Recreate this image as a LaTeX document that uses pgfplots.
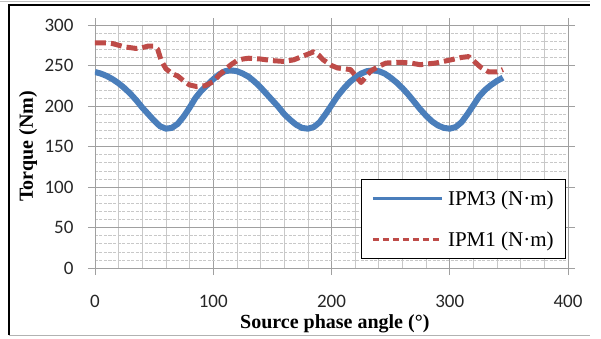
\documentclass[border=0pt]{standalone}
\usepackage{pgfplots}
\pgfplotsset{compat=1.18}
\usepackage{fontspec}
\setmainfont{Liberation Serif}
\newfontfamily\tickfont{Carlito}
\definecolor{ipmblue}{HTML}{4A7EBB}
\definecolor{ipmred}{HTML}{BE4B48}
\definecolor{majgrid}{HTML}{A0A0A0}
\definecolor{mingrid}{HTML}{C8C8C8}
\begin{document}
\begin{tikzpicture}[x=1pt,y=1pt]
\useasboundingbox (-95,-70) rectangle (506,268);
\draw[gray!50, line width=0.8pt] (-95,267) -- (495,267);
\draw[black, line width=2pt] (-86,-67) -- (-86,263) -- (495,263);
\draw[gray!60, line width=1pt] (-86,-67) -- (495,-67);
\begin{axis}[
  at={(0pt,0pt)}, anchor=south west,
  scale only axis, width=473pt, height=243pt,
  xmin=0, xmax=400, ymin=0, ymax=300,
  xtick={0,100,200,300,400}, ytick={0,50,100,150,200,250,300},
  minor x tick num=4, minor y tick num=4,
  grid=both,
  major x grid style={majgrid, line width=0.8pt},
  major y grid style={majgrid, line width=0.8pt},
  minor x grid style={mingrid, line width=0.7pt},
  minor y grid style={mingrid, line width=0.6pt, dash pattern=on 3pt off 1.5pt},
  axis line style={majgrid, line width=0.8pt},
  tick align=outside, major tick length=7pt, minor tick length=0pt,
  tick style={majgrid, line width=0.8pt},
  /pgf/number format/assume math mode=true,
  ticklabel style={font=\tickfont\fontsize{19}{20}\selectfont, text=black!85},
  xticklabel style={yshift=-17pt},
  yticklabel style={xshift=-11pt},
  xlabel={Source phase angle (°)},
  ylabel={Torque (Nm)},
  label style={font=\bfseries\fontsize{20}{22}\selectfont},
  xlabel style={at={(axis description cs:0.507,-0.247)}, anchor=base},
  ylabel style={at={(axis description cs:-0.1416,0.5)}, anchor=center, rotate=0},
  legend style={at={(axis description cs:0.9958,0.037)}, anchor=south east,
    draw=black, line width=0.8pt, fill=white,
    font=\fontsize{21}{23}\selectfont, inner xsep=10pt, inner ysep=9pt,
    row sep=21pt, column sep=3pt},
  legend cell align=left,
]
\addplot[ipmblue, line width=6pt, line join=round,
  legend image code/.code={\draw[ipmblue, line width=2.4pt] (0pt,0pt) -- (69pt,0pt);}]
coordinates {
(0,242)(5,240)(10,237)(15,233)(20,228)(25,222)(30,215)(35,207)(40,198)(45,190)
(50,182)(55,175)(60,172)(65,173)(70,178)(75,187)(80,198)(85,210)(90,219)(95,226)
(100,233)(105,239)(110,243)(115,244)(120,243)(125,240)(130,236)(135,230)(140,223)
(145,215)(150,207)(155,199)(160,190)(165,183)(170,177)(175,173)(180,172)(185,174)
(190,180)(195,190)(200,201)(205,212)(210,221)(215,229)(220,235)(225,240)(230,243)
(235,244)(240,243)(245,240)(250,235)(255,229)(260,222)(265,214)(270,205)(275,196)
(280,188)(285,181)(290,176)(295,173)(300,172)(305,174)(310,180)(315,190)(320,201)
(325,212)(330,220)(335,226)(340,231)(345,235)
};
\addlegendentry{IPM3 (N·m)}
\addplot[ipmred, line width=5pt, dash pattern=on 11pt off 5pt, line join=round,
  legend image code/.code={\draw[ipmred, line width=2.4pt, dash pattern=on 6.5pt off 3.5pt] (0pt,0pt) -- (69pt,0pt);}]
coordinates {
(0,278)(5,278)(10,278)(15,277)(20,275)(25,273)(30,272)(35,271)(40,272)(45,274)
(50,274)(53,270)(56,256)(60,246)(65,240)(70,237)(75,231)(80,226)(86,224)(93,225)
(100,230)(105,238)(110,245)(115,251)(120,256)(125,258)(130,259)(140,258)(150,256)
(160,255)(168,257)(175,261)(180,264)(185,267)(189,263)(193,257)(200,250)(205,247)
(210,246)(216,245)(220,238)(225,229)(229,236)(233,243)(240,249)(246,253)(258,254)
(267,253)(275,251)(288,253)(301,257)(310,260)(316,261)(320,256)(326,248)(333,242)
(340,242)(345,245)
};
\addlegendentry{IPM1 (N·m)}
\end{axis}
\end{tikzpicture}
\end{document}
